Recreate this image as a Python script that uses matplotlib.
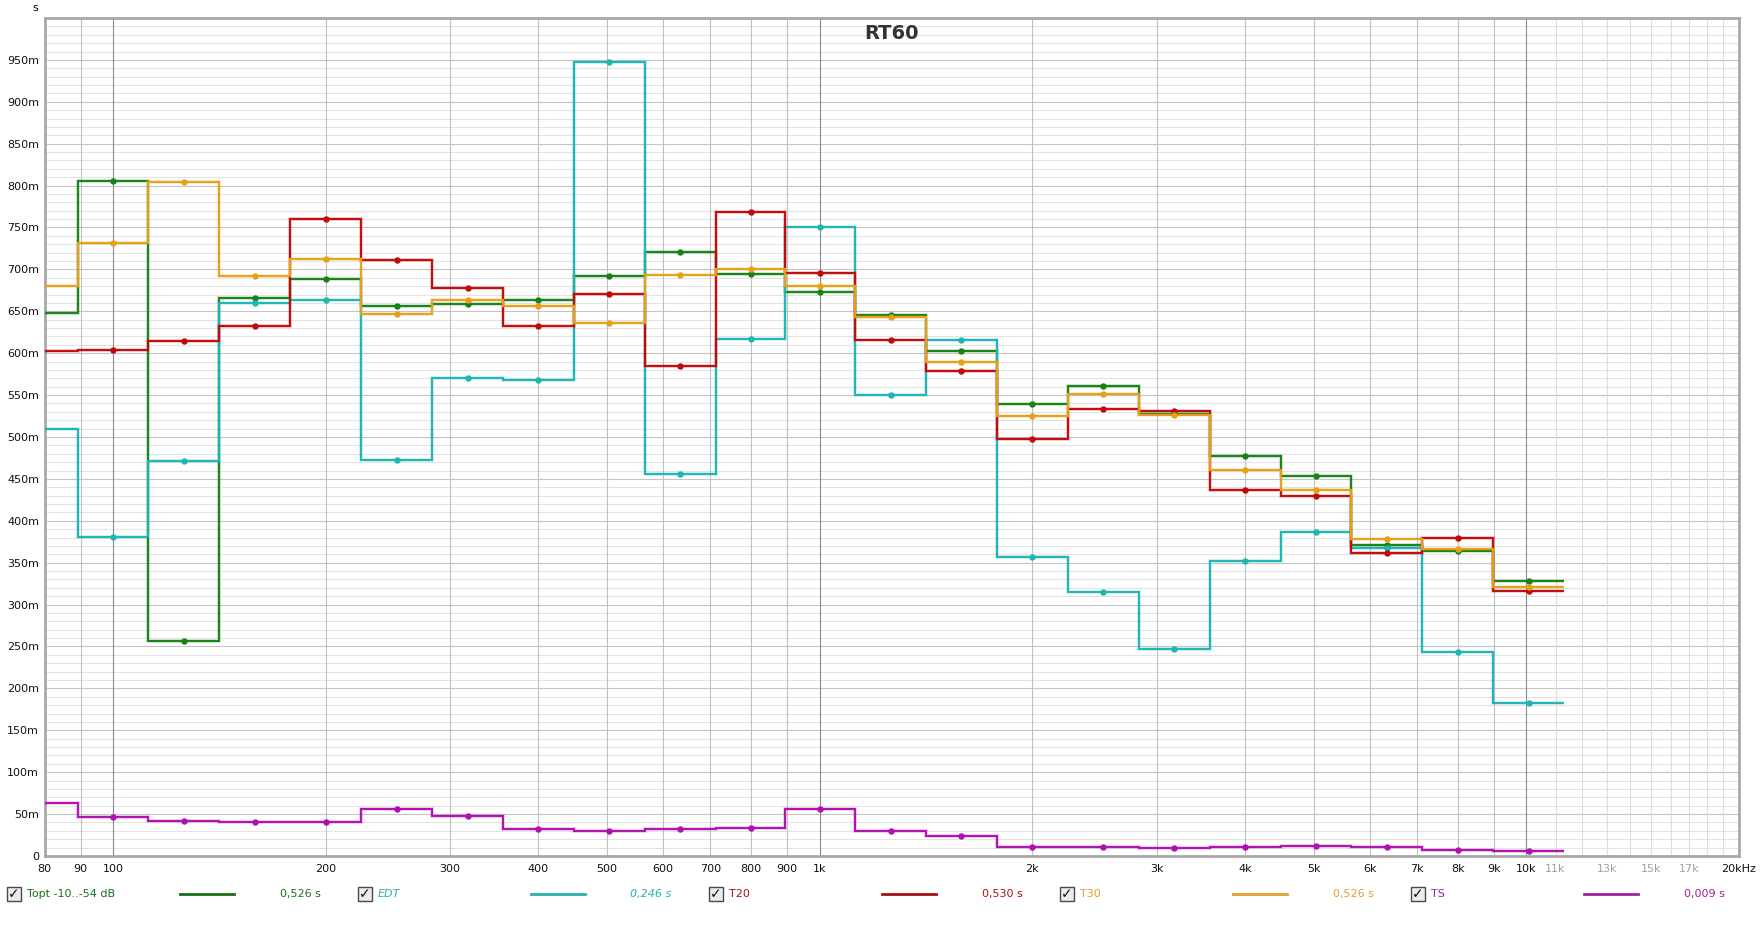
import numpy as np
import matplotlib.pyplot as plt
import matplotlib.patheffects as pe
from matplotlib.patches import Rectangle

# 1/3 octave band centres (exact base-2 values, as REW plots them)
freqs = [79.37, 100, 125.99, 158.74, 200, 251.98, 317.48, 400, 503.97, 634.96, 800,
         1000, 1259.92, 1587.4, 2000, 2519.84, 3174.8, 4000, 5039.68, 6349.6, 8000, 10079.37]

topt = [0.648, 0.805, 0.257, 0.666, 0.688, 0.656, 0.659, 0.663, 0.692, 0.721, 0.695,
        0.673, 0.646, 0.603, 0.539, 0.561, 0.527, 0.477, 0.454, 0.371, 0.364, 0.328]
edt = [0.510, 0.381, 0.471, 0.660, 0.664, 0.473, 0.570, 0.568, 0.947, 0.456, 0.617,
       0.751, 0.550, 0.616, 0.357, 0.315, 0.247, 0.352, 0.387, 0.367, 0.243, 0.183]
t20 = [0.603, 0.604, 0.615, 0.633, 0.760, 0.711, 0.678, 0.633, 0.671, 0.585, 0.768,
       0.696, 0.616, 0.579, 0.498, 0.533, 0.531, 0.437, 0.430, 0.362, 0.380, 0.316]
t30 = [0.680, 0.731, 0.804, 0.692, 0.712, 0.647, 0.664, 0.656, 0.636, 0.693, 0.700,
       0.680, 0.643, 0.589, 0.525, 0.551, 0.526, 0.461, 0.437, 0.378, 0.366, 0.321]
ts = [0.063, 0.047, 0.042, 0.041, 0.041, 0.056, 0.048, 0.032, 0.030, 0.032, 0.034,
      0.056, 0.030, 0.024, 0.011, 0.011, 0.009, 0.011, 0.0125, 0.011, 0.0066, 0.006]

series = [
    ('Topt -10..-54 dB', topt, '#178217', '#1a6e1a', '0,526 s', 'normal'),
    ('EDT', edt, '#1fb5b5', '#2ab0b0', '0,246 s', 'italic'),
    ('T20', t20, '#c20a0a', '#a81010', '0,530 s', 'normal'),
    ('T30', t30, '#e8a019', '#e0a030', '0,526 s', 'normal'),
    ('TS', ts, '#b010b0', '#a020a0', '0,009 s', 'normal'),
]

xtick_vals = [80, 90, 100, 200, 300, 400, 500, 600, 700, 800, 900,
              1000, 2000, 3000, 4000, 5000, 6000, 7000, 8000, 9000, 10000,
              11000, 13000, 15000, 17000, 20000]
xtick_labels = ['80', '90', '100', '200', '300', '400', '500', '600', '700', '800', '900',
                '1k', '2k', '3k', '4k', '5k', '6k', '7k', '8k', '9k', '10k',
                '11k', '13k', '15k', '17k', '20kHz']
grey_labels = ['11k', '13k', '15k', '17k']

plt.rcParams['font.family'] = 'DejaVu Sans'
plt.rcParams['font.size'] = 8

fig = plt.figure(figsize=(17.61, 9.32), dpi=100)
ax = fig.add_axes([0.02527, 0.08155, 0.96224, 0.89914])

# grid
for v in np.arange(0.01, 1.0, 0.01):
    major = abs(v / 0.05 - round(v / 0.05)) < 1e-6
    ax.axhline(v, color='#c4c4c4' if major else '#e3e3e3', lw=0.8, zorder=0)
for f in [90] + list(range(200, 1000, 100)) + list(range(2000, 10000, 1000)):
    ax.axvline(f, color='#c0c0c0', lw=0.8, zorder=0.5)
for f in range(11000, 20000, 1000):
    ax.axvline(f, color='#dedede', lw=0.8, zorder=0.5)
for f in [100, 1000, 10000]:
    ax.axvline(f, color='#8a8a8a', lw=0.8, zorder=0.6)

# band edges (geometric means between band centres)
fr = np.array(freqs, dtype=float)
edges = np.sqrt(fr[:-1] * fr[1:])
edges = np.concatenate([[fr[0] / np.sqrt(fr[1] / fr[0])], edges,
                        [fr[-1] * np.sqrt(fr[-1] / fr[-2])]])

for name, vals, col, lcol, val_txt, style in series:
    ax.stairs(vals, edges, baseline=None, color=col, lw=1.4, zorder=3,
              path_effects=[pe.Stroke(linewidth=2.8, foreground=col, alpha=0.22),
                            pe.Normal()])
    ax.plot(freqs, vals, 'o', ms=3.6, color=col, mec=col, zorder=4)

ax.set_xscale('log')
ax.set_xlim(80, 20000)
ax.set_ylim(0, 1.0)
ax.minorticks_off()
ax.set_xticks(xtick_vals, xtick_labels)
ax.set_yticks(np.arange(0, 0.951, 0.05),
              ['0'] + ['%dm' % round(v * 1000) for v in np.arange(0.05, 0.951, 0.05)])
ax.tick_params(axis='both', length=0, labelsize=8, colors='#111111')
ax.tick_params(axis='x', pad=6)
ax.tick_params(axis='y', pad=4)
for lab in ax.get_xticklabels():
    if lab.get_text() in grey_labels:
        lab.set_color('#a0a0a0')

for sp in ax.spines.values():
    sp.set_color('#a8a8a8')
    sp.set_linewidth(2)

ax.text(0.5, 1 - 16 / 838, 'RT60', transform=ax.transAxes, ha='center', va='center',
        fontsize=14, fontweight='bold', color='#333333')
fig.text(35 / 1761, 1 - 8 / 932, 's', ha='center', va='center', fontsize=8)

# legend row
W, H = 1761, 932
ly = 1 - 894 / H
for i, (name, vals, col, lcol, val_txt, style) in enumerate(series):
    off = 351 * i
    bx = (13.5 + off) / W
    bw = 14 / W
    bh = 14 / H
    fig.patches.append(Rectangle((bx - bw / 2, ly - bh / 2), bw, bh, transform=fig.transFigure,
                                 facecolor='#ececec', edgecolor='#4a4a4a', lw=1))
    fig.text(bx, ly, '\u2713', ha='center', va='center', fontsize=10, fontweight='bold',
             color='#111111')
    fig.text((27 + off) / W, ly, name, ha='left', va='center', color=lcol,
             fontsize=8, fontstyle=style)
    fig.add_artist(plt.Line2D([(180 + off) / W, (234 + off) / W], [ly, ly],
                              transform=fig.transFigure, color=lcol, lw=2))
    fig.text((300 + off) / W, ly, val_txt, ha='center', va='center', color=lcol,
             fontsize=8, fontstyle=style)

fig.savefig('out.png', dpi=100)
